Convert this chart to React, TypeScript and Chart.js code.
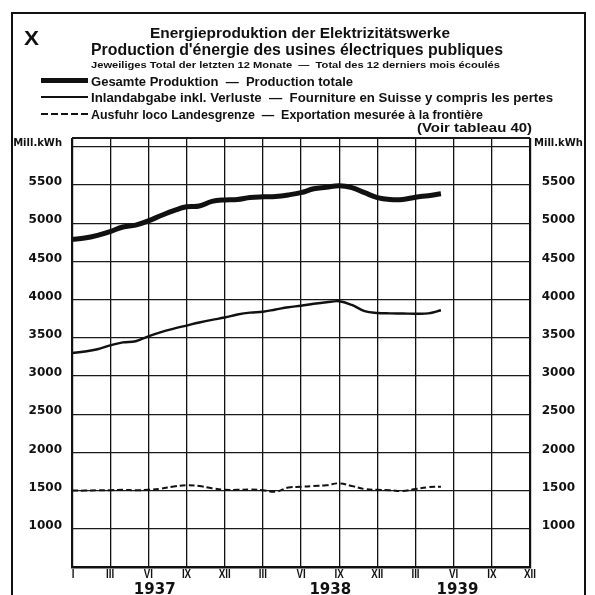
import React, { useEffect, useRef } from "react";
import { Chart, registerables } from "chart.js";

Chart.register(...registerables);

// ---- data (monthly, 0 = I 1937) ----
const months = [0, 1, 2, 3, 4, 5, 6, 7, 8, 9, 10, 11, 12, 13, 14, 15, 16, 17, 18, 19, 20, 21, 22, 23, 24, 25, 26, 27, 28, 29];
const totalProduction = [4790, 4805, 4840, 4890, 4950, 4975, 5030, 5100, 5165, 5215, 5225, 5285, 5305, 5310, 5335, 5345, 5350, 5370, 5400, 5450, 5470, 5490, 5465, 5400, 5335, 5310, 5310, 5340, 5360, 5385];
const domesticSupply = [3300, 3320, 3350, 3400, 3440, 3455, 3520, 3575, 3620, 3660, 3700, 3735, 3765, 3805, 3830, 3840, 3870, 3900, 3920, 3945, 3965, 3978, 3930, 3850, 3825, 3820, 3818, 3815, 3820, 3860];
const exportsAtBorder = [1500, 1500, 1505, 1505, 1510, 1505, 1510, 1525, 1555, 1570, 1560, 1530, 1510, 1510, 1515, 1505, 1485, 1540, 1550, 1560, 1570, 1595, 1560, 1520, 1510, 1505, 1495, 1520, 1545, 1550];

const quarterTicks = [0, 3, 6, 9, 12, 15, 18, 21, 24, 27, 30, 33, 36];
const quarterLabels = ["I", "III", "VI", "IX", "XII", "III", "VI", "IX", "XII", "III", "VI", "IX", "XII"];
const years = ["1937", "1938", "1939"];
const yearPositions = [6.5, 20.3, 30.3];
const yTicks = [500, 1000, 1500, 2000, 2500, 3000, 3500, 4000, 4500, 5000, 5500, 6000];
const yLabelled = [1000, 1500, 2000, 2500, 3000, 3500, 4000, 4500, 5000, 5500];
const unitLabel = "Mill.kWh";
const Y_MIN = 500;
const Y_TOP = 6115;
const X_MIN = 0;
const X_MAX = 36;

const chartMark = "X";
const title1 = "Energieproduktion der Elektrizitätswerke";
const title2 = "Production d'énergie des usines électriques publiques";
const subtitle = "Jeweiliges Total der letzten 12 Monate  —  Total des 12 derniers mois écoulés";
const legendLabels = [
  "Gesamte Produktion  —  Production totale",
  "Inlandabgabe inkl. Verluste  —  Fourniture en Suisse y compris les pertes",
  "Ausfuhr loco Landesgrenze  —  Exportation mesurée à la frontière",
];
const sourceNote = "(Voir tableau 40)";

const SANS = "'Liberation Sans', Arial, sans-serif";
const DIGITS = "'DejaVu Sans', sans-serif";
const INK = "#111";

function fitText(ctx: CanvasRenderingContext2D, text: string, x: number, y: number, w: number, font: string) {
  ctx.save();
  ctx.font = font;
  ctx.textAlign = "left";
  ctx.textBaseline = "alphabetic";
  const m = ctx.measureText(text).width;
  ctx.translate(x, y);
  ctx.scale(w / m, 1);
  ctx.fillText(text, 0, 0);
  ctx.restore();
}

function centerScaled(ctx: CanvasRenderingContext2D, text: string, cx: number, y: number, sx: number, font: string) {
  ctx.save();
  ctx.font = font;
  ctx.textAlign = "center";
  ctx.textBaseline = "alphabetic";
  ctx.translate(cx, y);
  ctx.scale(sx, 1);
  ctx.fillText(text, 0, 0);
  ctx.restore();
}

const decorPlugin = {
  id: "decor",
  afterDraw(chart: any) {
    const ctx: CanvasRenderingContext2D = chart.ctx;
    ctx.save();
    ctx.fillStyle = INK;
    ctx.strokeStyle = INK;
    // frame
    ctx.lineWidth = 2;
    ctx.beginPath();
    ctx.moveTo(12, 595);
    ctx.lineTo(12, 13);
    ctx.lineTo(585, 13);
    ctx.lineTo(585, 595);
    ctx.stroke();

    // header
    fitText(ctx, chartMark, 24, 45, 15, `bold 20px ${SANS}`);
    fitText(ctx, title1, 150, 38, 300, `bold 15px ${SANS}`);
    fitText(ctx, title2, 91, 54.5, 412, `bold 16px ${SANS}`);
    fitText(ctx, subtitle, 91, 67.5, 409, `bold 8.5px ${SANS}`);

    // legend samples
    const ys = [80.5, 97, 114];
    ctx.lineCap = "butt";
    ctx.beginPath();
    ctx.lineWidth = 5;
    ctx.moveTo(41, ys[0]);
    ctx.lineTo(88, ys[0]);
    ctx.stroke();
    ctx.beginPath();
    ctx.lineWidth = 2;
    ctx.moveTo(41, ys[1]);
    ctx.lineTo(88, ys[1]);
    ctx.stroke();
    ctx.beginPath();
    ctx.lineWidth = 2;
    ctx.setLineDash([7, 3]);
    ctx.moveTo(41, ys[2]);
    ctx.lineTo(88, ys[2]);
    ctx.stroke();
    ctx.setLineDash([]);

    fitText(ctx, legendLabels[0], 91, 85.5, 262, `bold 13px ${SANS}`);
    fitText(ctx, legendLabels[1], 91, 102, 462, `bold 13px ${SANS}`);
    fitText(ctx, legendLabels[2], 91, 119, 392, `bold 13px ${SANS}`);
    fitText(ctx, sourceNote, 417, 132, 115, `bold 13px ${SANS}`);

    // x labels
    const xs = chart.scales.x;
    quarterTicks.forEach((v, i) => {
      const px = xs.getPixelForValue(v);
      centerScaled(ctx, quarterLabels[i], px + (i === 0 ? 1 : 0), 578, 0.75, `bold 13px ${SANS}`);
    });
    years.forEach((y, i) => {
      const px = xs.getPixelForValue(yearPositions[i]);
      centerScaled(ctx, y, px, 594, 1, `bold 15px ${DIGITS}`);
    });
    ctx.restore();
  },
};

function yTickLabel(v: number): string {
  if (v === 6000) return unitLabel;
  return yLabelled.includes(v) ? String(v) : "";
}

function yTickFont(c: any) {
  if (c.tick && c.tick.value === 6000) return { family: DIGITS, size: 10, weight: "bold" as const };
  return { family: DIGITS, size: 12, weight: "bold" as const };
}

export default function App() {
  const ref = useRef<HTMLCanvasElement | null>(null);
  useEffect(() => {
    if (!ref.current) return;
    const mk = (vals: number[]) => months.map((m, i) => ({ x: m, y: vals[i] }));
    const chart = new Chart(ref.current, {
      type: "line",
      data: {
        datasets: [
          { label: legendLabels[0], data: mk(totalProduction), borderColor: INK, borderWidth: 5, pointRadius: 0, tension: 0.4, fill: false },
          { label: legendLabels[1], data: mk(domesticSupply), borderColor: INK, borderWidth: 2.4, pointRadius: 0, tension: 0.4, fill: false },
          { label: legendLabels[2], data: mk(exportsAtBorder), borderColor: INK, borderWidth: 2, borderDash: [6, 3], pointRadius: 0, tension: 0.4, fill: false },
        ],
      },
      options: {
        animation: false,
        responsive: false,
        devicePixelRatio: 1,
        layout: { padding: { top: 138, left: 0, right: 9, bottom: 0 } },
        plugins: { legend: { display: false }, tooltip: { enabled: false }, title: { display: false } },
        scales: {
          x: {
            type: "linear",
            min: X_MIN,
            max: X_MAX,
            afterBuildTicks: (s: any) => {
              s.ticks = quarterTicks.map((v) => ({ value: v }));
            },
            afterFit: (s: any) => {
              s.height = 28;
            },
            ticks: { display: false },
            grid: {
              color: INK,
              lineWidth: (c: any) => (c.tick && (c.tick.value === X_MIN || c.tick.value === X_MAX) ? 2.2 : 1.3),
              drawTicks: false,
            },
            border: { display: true, color: INK, width: 2.5 },
          },
          y: {
            type: "linear",
            position: "left",
            min: Y_MIN,
            max: Y_TOP,
            afterBuildTicks: (s: any) => {
              s.ticks = [...yTicks, Y_TOP].map((v) => ({ value: v }));
            },
            afterFit: (s: any) => {
              s.width = 72;
            },
            grid: { color: "#1a1a1a", lineWidth: (c: any) => (c.tick && c.tick.value === Y_TOP ? 2 : 1.2), drawTicks: false },
            border: { display: false },
            ticks: { callback: (v: any) => yTickLabel(Number(v)), font: yTickFont as any, color: INK, padding: 10, labelOffset: -3, autoSkip: false },
          },
          y2: {
            type: "linear",
            position: "right",
            min: Y_MIN,
            max: Y_TOP,
            afterBuildTicks: (s: any) => {
              s.ticks = [...yTicks, Y_TOP].map((v) => ({ value: v }));
            },
            afterFit: (s: any) => {
              s.width = 56;
            },
            grid: { display: false, drawTicks: false },
            border: { display: false },
            ticks: { callback: (v: any) => yTickLabel(Number(v)), font: yTickFont as any, color: INK, padding: 4, labelOffset: -3, crossAlign: "center", autoSkip: false },
          },
        },
      },
      plugins: [decorPlugin],
    });
    return () => chart.destroy();
  }, []);

  return (
    <div style={{ position: "fixed", left: 0, top: 0, width: 595, height: 595, background: "#fff" }}>
      <canvas ref={ref} width={595} height={595} style={{ display: "block", width: 595, height: 595 }} />
    </div>
  );
}
